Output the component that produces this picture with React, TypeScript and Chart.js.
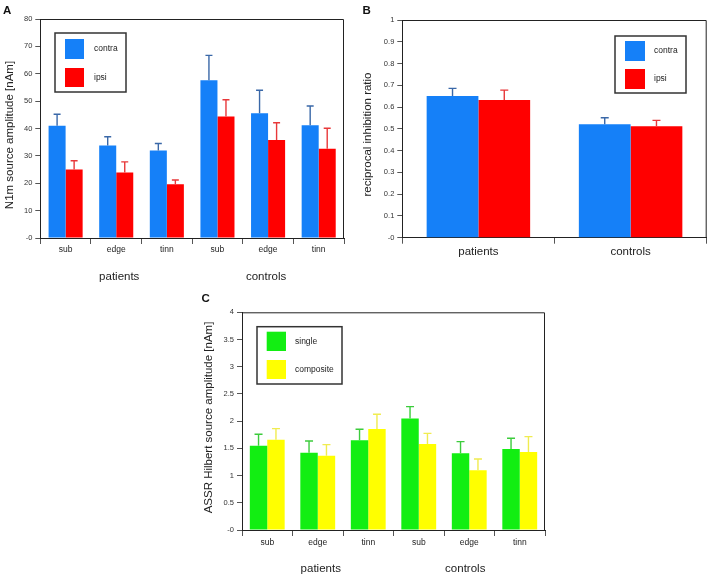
import React, { useEffect, useRef } from "react";
import { Chart, registerables } from "chart.js";

Chart.register(...registerables);

const FONT = '"Liberation Sans", Arial, Helvetica, sans-serif';

// ---------- data ----------
const subCategories = ["sub", "edge", "tinn", "sub", "edge", "tinn"];
const groupLabels = ["patients", "controls"];

const aContra = [41.0, 33.8, 32.0, 57.6, 45.6, 41.2];
const aContraUpper = [45.2, 37.0, 34.5, 66.7, 54.0, 48.2];
const aIpsi = [25.0, 23.9, 19.6, 44.4, 35.8, 32.6];
const aIpsiUpper = [28.2, 27.8, 21.2, 50.5, 42.1, 40.1];
const aTicks = [0, 10, 20, 30, 40, 50, 60, 70, 80];

const bCategories = ["patients", "controls"];
const bContra = [0.651, 0.521];
const bContraUpper = [0.686, 0.551];
const bIpsi = [0.632, 0.512];
const bIpsiUpper = [0.678, 0.539];

const cSingle = [1.55, 1.42, 1.65, 2.05, 1.41, 1.49];
const cSingleUpper = [1.76, 1.635, 1.85, 2.266, 1.623, 1.685];
const cComposite = [1.66, 1.366, 1.856, 1.58, 1.1, 1.433];
const cCompositeUpper = [1.862, 1.568, 2.126, 1.776, 1.305, 1.715];

const legendA = ["contra", "ipsi"];
const legendC = ["single", "composite"];

// ---------- colours ----------
const BLUE = "#1580f8";
const BLUE_ERR = "#3a68a8";
const RED = "#ff0000";
const RED_ERR = "#e8383a";
const GREEN = "#12ee12";
const GREEN_ERR = "#3ccc3c";
const YELLOW = "#ffff00";
const YELLOW_ERR = "#f0ec50";
const AXIS = "#222222";

function fmtTick(v: number) {
  const r = Math.round(v * 100) / 100;
  return r === 0 ? "-0" : String(r);
}

function errorBarPlugin(uppers: number[][], colors: string[], cap: number) {
  return {
    id: "errbars",
    afterDatasetsDraw(chart: any) {
      const ctx = chart.ctx;
      const ys = chart.scales.y;
      uppers.forEach((up, i) => {
        const meta = chart.getDatasetMeta(i);
        meta.data.forEach((el: any, j: number) => {
          const x = el.x;
          const y0 = el.y;
          const y1 = ys.getPixelForValue(up[j]);
          ctx.save();
          ctx.strokeStyle = colors[i];
          ctx.lineWidth = 1.4;
          ctx.beginPath();
          ctx.moveTo(x, y0);
          ctx.lineTo(x, y1);
          ctx.moveTo(x - cap, y1);
          ctx.lineTo(x + cap, y1);
          ctx.stroke();
          ctx.restore();
        });
      });
    },
  };
}

function framePlugin() {
  return {
    id: "frame",
    afterDraw(chart: any) {
      const { left, top, right, bottom } = chart.chartArea;
      const ctx = chart.ctx;
      ctx.save();
      ctx.strokeStyle = AXIS;
      ctx.lineWidth = 1;
      ctx.beginPath();
      ctx.moveTo(left, top + 0.5);
      ctx.lineTo(right - 0.5, top + 0.5);
      ctx.lineTo(right - 0.5, bottom);
      ctx.stroke();
      ctx.restore();
    },
  };
}

function yTitlePlugin(text: string, cx: number, cy: number) {
  return {
    id: "ytitle",
    afterDraw(chart: any) {
      const ctx = chart.ctx;
      ctx.save();
      ctx.translate(cx, cy);
      ctx.rotate(-Math.PI / 2);
      ctx.font = `11.5px ${FONT}`;
      ctx.fillStyle = "#222222";
      ctx.textAlign = "center";
      ctx.textBaseline = "middle";
      ctx.fillText(text, 0, 0);
      ctx.restore();
    },
  };
}

type LegendGeom = {
  box: [number, number, number, number];
  swatches: [number, number, number, number][];
  textX: number;
};

function boxLegendPlugin(labels: string[], colors: string[], g: LegendGeom) {
  return {
    id: "boxlegend",
    afterDraw(chart: any) {
      const ctx = chart.ctx;
      ctx.save();
      ctx.fillStyle = "#ffffff";
      ctx.fillRect(g.box[0], g.box[1], g.box[2], g.box[3]);
      ctx.strokeStyle = "#333333";
      ctx.lineWidth = 1.5;
      ctx.strokeRect(g.box[0], g.box[1], g.box[2], g.box[3]);
      ctx.font = `8.5px ${FONT}`;
      ctx.textBaseline = "middle";
      ctx.textAlign = "left";
      labels.forEach((lab, i) => {
        const s = g.swatches[i];
        ctx.fillStyle = colors[i];
        ctx.fillRect(s[0], s[1], s[2], s[3]);
        ctx.fillStyle = "#222222";
        ctx.fillText(lab, g.textX, s[1] + s[3] / 2);
      });
      ctx.restore();
    },
  };
}

function groupLabelPlugin(groups: string[], y: number, dx: number[]) {
  return {
    id: "grouplabels",
    afterDraw(chart: any) {
      const ctx = chart.ctx;
      const xs = chart.scales.x;
      ctx.save();
      ctx.font = `11.5px ${FONT}`;
      ctx.fillStyle = "#222222";
      ctx.textAlign = "center";
      ctx.textBaseline = "middle";
      groups.forEach((g, i) => {
        const cx = xs.getPixelForValue(i * 3 + 1) + dx[i];
        ctx.fillText(g, cx, y);
      });
      ctx.restore();
    },
  };
}

type PanelOpts = {
  labels: string[];
  datasets: { label: string; data: number[]; color: string }[];
  yMax: number;
  yStep: number;
  padding: { left: number; top: number; right: number; bottom: number };
  yWidth: number;
  xHeight: number;
  xFontSize: number;
  xTickLen: number;
  xPad: number;
  catPct: number;
  plugins: any[];
};

function makeChart(canvas: HTMLCanvasElement, o: PanelOpts) {
  return new Chart(canvas, {
    type: "bar",
    data: {
      labels: o.labels,
      datasets: o.datasets.map((d) => ({
        label: d.label,
        data: d.data,
        backgroundColor: d.color,
        borderWidth: 0,
        categoryPercentage: o.catPct,
        barPercentage: 1,
      })),
    },
    options: {
      animation: false,
      responsive: false,
      devicePixelRatio: 1,
      layout: { padding: o.padding },
      plugins: { legend: { display: false }, tooltip: { enabled: false } },
      scales: {
        x: {
          grid: {
            display: true,
            drawOnChartArea: false,
            drawTicks: true,
            tickLength: o.xTickLen,
            color: "#555555",
            offset: true,
          },
          border: { display: true, color: AXIS, width: 1 },
          ticks: {
            font: { family: FONT, size: o.xFontSize },
            color: "#222222",
            padding: o.xPad,
            maxRotation: 0,
            autoSkip: false,
          },
          afterFit: (s: any) => {
            s.height = o.xHeight;
          },
        },
        y: {
          min: 0,
          max: o.yMax,
          grid: {
            display: true,
            drawOnChartArea: false,
            drawTicks: true,
            tickLength: 5,
            color: "#555555",
          },
          border: { display: true, color: AXIS, width: 1 },
          ticks: {
            stepSize: o.yStep,
            font: { family: FONT, size: 7.5 },
            color: "#333333",
            padding: 3,
            callback: (v: any) => fmtTick(Number(v)),
          },
          afterFit: (s: any) => {
            s.width = o.yWidth;
          },
        },
      },
    },
    plugins: o.plugins,
  } as any);
}

function Panel(props: {
  left: number;
  top: number;
  width: number;
  height: number;
  build: (c: HTMLCanvasElement) => Chart;
}) {
  const ref = useRef<HTMLCanvasElement | null>(null);
  useEffect(() => {
    if (!ref.current) return;
    const ch = props.build(ref.current);
    return () => ch.destroy();
  }, []);
  return (
    <canvas
      ref={ref}
      width={props.width}
      height={props.height}
      style={{
        position: "absolute",
        left: props.left,
        top: props.top,
        width: props.width,
        height: props.height,
      }}
    />
  );
}

const letterStyle = (left: number, top: number): React.CSSProperties => ({
  position: "absolute",
  left,
  top,
  font: `bold 11.5px ${FONT}`,
  lineHeight: "12px",
  color: "#111",
});

export default function App() {
  return (
    <div
      style={{
        position: "absolute",
        left: 0,
        top: 0,
        width: 708,
        height: 579,
        background: "#ffffff",
        overflow: "hidden",
      }}
    >
      <Panel
        left={0}
        top={0}
        width={350}
        height={290}
        build={(c) =>
          makeChart(c, {
            labels: subCategories,
            datasets: [
              { label: legendA[0], data: aContra, color: BLUE },
              { label: legendA[1], data: aIpsi, color: RED },
            ],
            yMax: aTicks[aTicks.length - 1],
            yStep: aTicks[1] - aTicks[0],
            padding: { left: 0, top: 19, right: 6, bottom: 0 },
            yWidth: 40.3,
            xHeight: 52,
            xFontSize: 8.5,
            xTickLen: 6,
            xPad: 1,
            catPct: 0.673,
            plugins: [
              errorBarPlugin([aContraUpper, aIpsiUpper], [BLUE_ERR, RED_ERR], 3.5),
              framePlugin(),
              yTitlePlugin("N1m source amplitude [nAm]", 9.5, 135),
              boxLegendPlugin(legendA, [BLUE, RED], {
                box: [55, 33, 71, 59],
                swatches: [
                  [65, 39, 19, 20],
                  [65, 68, 19, 19],
                ],
                textX: 94,
              }),
              groupLabelPlugin(groupLabels, 277, [3, -2]),
            ],
          })
        }
      />
      <Panel
        left={350}
        top={0}
        width={358}
        height={290}
        build={(c) =>
          makeChart(c, {
            labels: bCategories,
            datasets: [
              { label: legendA[0], data: bContra, color: BLUE },
              { label: legendA[1], data: bIpsi, color: RED },
            ],
            yMax: 1,
            yStep: 0.1,
            padding: { left: 6, top: 20, right: 1.3, bottom: 0 },
            yWidth: 46.3,
            xHeight: 52.3,
            xFontSize: 11.5,
            xTickLen: 6,
            xPad: 1.5,
            catPct: 0.68,
            plugins: [
              errorBarPlugin([bContraUpper, bIpsiUpper], [BLUE_ERR, RED_ERR], 4),
              framePlugin(),
              yTitlePlugin("reciprocal inhibition ratio", 17.5, 134.5),
              boxLegendPlugin(legendA, [BLUE, RED], {
                box: [265, 36, 71, 57],
                swatches: [
                  [275, 41, 20, 20],
                  [275, 69, 20, 20],
                ],
                textX: 304,
              }),
            ],
          })
        }
      />
      <Panel
        left={198}
        top={280}
        width={362}
        height={299}
        build={(c) =>
          makeChart(c, {
            labels: subCategories,
            datasets: [
              { label: legendC[0], data: cSingle, color: GREEN },
              { label: legendC[1], data: cComposite, color: YELLOW },
            ],
            yMax: 4,
            yStep: 0.5,
            padding: { left: 0, top: 32.3, right: 15, bottom: 0 },
            yWidth: 44,
            xHeight: 49,
            xFontSize: 8.5,
            xTickLen: 6,
            xPad: 1.6,
            catPct: 0.69,
            plugins: [
              errorBarPlugin([cSingleUpper, cCompositeUpper], [GREEN_ERR, YELLOW_ERR], 4),
              framePlugin(),
              yTitlePlugin("ASSR Hilbert source amplitude [nAm]", 11, 137.5),
              boxLegendPlugin(legendC, [GREEN, YELLOW], {
                box: [59, 46.7, 85, 57.3],
                swatches: [
                  [68.7, 51.7, 19.3, 19.3],
                  [68.7, 80, 19.3, 19],
                ],
                textX: 97,
              }),
              groupLabelPlugin(groupLabels, 289, [3, -4]),
            ],
          })
        }
      />
      <div style={letterStyle(3, 3.5)}>A</div>
      <div style={letterStyle(362.5, 3.5)}>B</div>
      <div style={letterStyle(201.5, 292)}>C</div>
    </div>
  );
}
